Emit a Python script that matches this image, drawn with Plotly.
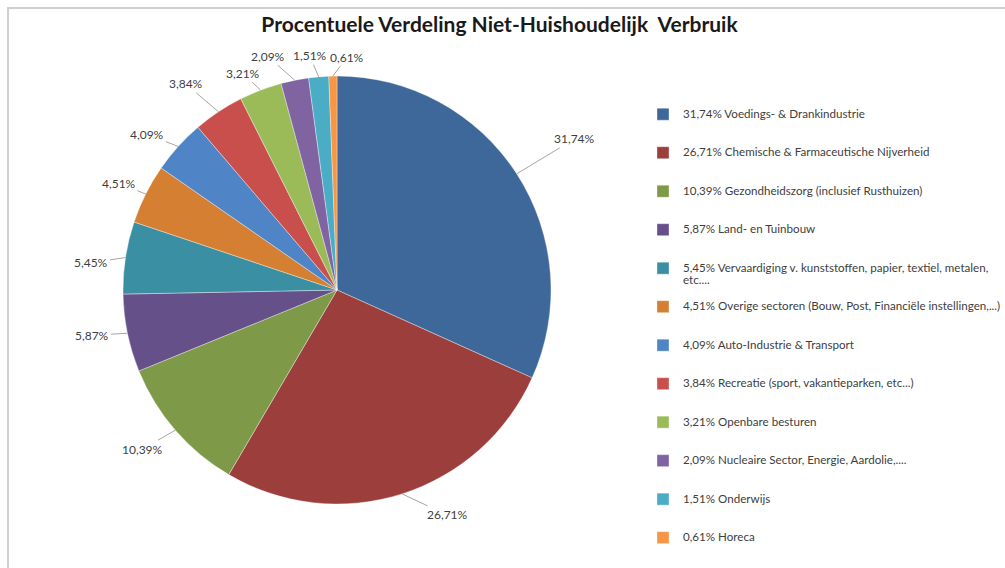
import math
import plotly.graph_objects as go

# ---- data ----
sectors = [
    "Voedings- & Drankindustrie",
    "Chemische & Farmaceutische Nijverheid",
    "Gezondheidszorg (inclusief Rusthuizen)",
    "Land- en Tuinbouw",
    "Vervaardiging v. kunststoffen, papier, textiel, metalen,<br>etc....",
    "Overige sectoren (Bouw, Post, Financiële instellingen,...)",
    "Auto-Industrie & Transport",
    "Recreatie (sport, vakantieparken, etc...)",
    "Openbare besturen",
    "Nucleaire Sector, Energie, Aardolie,....",
    "Onderwijs",
    "Horeca",
]
shares = [31.74, 26.71, 10.39, 5.87, 5.45, 4.51, 4.09, 3.84, 3.21, 2.09, 1.51, 0.61]
title_text = "Procentuele Verdeling Niet-Huishoudelijk\u00a0 Verbruik"

# ---- styles ----
colors = ["#3F689A", "#9C3F3C", "#7E9A48", "#66508A", "#3A8FA2", "#D47F32",
          "#4F85C6", "#C94F4C", "#9BBB59", "#8064A2", "#4BACC6", "#F79646"]
# label text offsets (pixels) from the slice edge
label_offsets = [(58, -35), (45, 21), (-33, 19), (-35, 2), (-34, 5), (-27, -11),
                 (-31, -12), (-33, -28), (-18, -17), (-27, -24), (-9, -21), (14, -19)]

W, H = 1005, 568
CX, CY, R = 337, 290, 214
FONT = "Lato"


def pct(v):
    return f"{v:.2f}%".replace(".", ",")


legend_labels = []
for v, s in zip(shares, sectors):
    body = f'<span style="font-size:11.6px">{pct(v)} {s}</span>'
    if "<br>" in s:
        legend_labels.append(" <br>" + body)
    else:
        legend_labels.append(" <br>" + body + "<br> ")

fig = go.Figure(
    go.Pie(
        labels=legend_labels,
        values=shares,
        sort=False,
        direction="clockwise",
        rotation=0,
        marker=dict(colors=colors, line=dict(color="rgba(255,255,255,0.45)", width=0.8)),
        textinfo="none",
        hoverinfo="label+percent",
        domain=dict(x=[(CX - R) / W, (CX + R) / W], y=[1 - (CY + R) / H, 1 - (CY - R) / H]),
    )
)

# leader-line labels computed from the cumulative slice angles
total = sum(shares)
cum = 0.0
annotations = []
for v, (ox, oy) in zip(shares, label_offsets):
    mid = (cum + v / 2) / total * 2 * math.pi
    cum += v
    ex = CX + R * math.sin(mid)
    ey = CY - R * math.cos(mid)
    annotations.append(
        dict(
            x=ex / W, y=1 - ey / H, xref="paper", yref="paper",
            text=pct(v), showarrow=True, arrowhead=0, arrowwidth=1,
            arrowcolor="#A6A6A6", ax=ox, ay=oy, standoff=0,
            font=dict(family=FONT, size=12, color="#404040"),
        )
    )

fig.update_layout(
    width=W, height=H,
    margin=dict(l=0, r=0, t=0, b=0, autoexpand=False),
    paper_bgcolor="white",
    plot_bgcolor="white",
    title=dict(
        text=title_text, x=0.497, xanchor="center", y=1 - 25 / H, yanchor="middle",
        font=dict(family=FONT, size=21, color="#1a1a1a", weight="bold"),
    ),
    legend=dict(
        x=643 / W, xanchor="left", y=1 - 90 / H, yanchor="top",
        font=dict(family=FONT, size=9.1, color="#404040"),
        bgcolor="rgba(0,0,0,0)",
    ),
    annotations=annotations,
    shapes=[
        dict(type="rect", xref="paper", yref="paper", x0=8 / W, x1=1.02, y0=-0.02, y1=1 - 8 / H,
             line=dict(color="#CFCFCF", width=2), fillcolor="rgba(0,0,0,0)", layer="below"),
    ],
)

fig.write_html(
    "out.html",
    config={"displayModeBar": False},
    post_script="document.body.style.margin='0';",
)
